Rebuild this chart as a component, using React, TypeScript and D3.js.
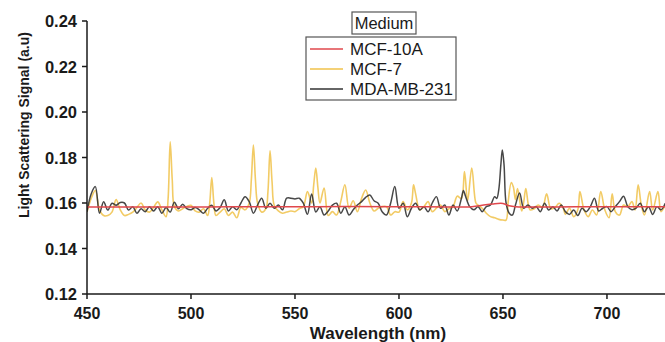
import React from "react";
import * as d3 from "d3";

type Pt = [number, number];

const xTicks = [450, 500, 550, 600, 650, 700];
const yTicks = [0.12, 0.14, 0.16, 0.18, 0.2, 0.22, 0.24];
const seriesNames = ["MCF-10A", "MCF-7", "MDA-MB-231"];
const seriesColors = ["#e0474c", "#f0c24a", "#333333"];

const mcf10a: Pt[] = [
  [450, 0.1582], [480, 0.1582], [520, 0.1583], [560, 0.1584], [600, 0.1584], [635, 0.1584],
  [640, 0.159], [645, 0.1596], [650, 0.1598], [653, 0.1588], [656, 0.1584], [700, 0.1584], [728, 0.1584],
];

const mcf7: Pt[] = [
  [450, 0.156], [452, 0.162], [454, 0.1655], [456, 0.157], [458, 0.1545], [460, 0.1545], [462, 0.156],
  [464, 0.1615], [466, 0.157], [468, 0.1545], [470, 0.155], [472, 0.156], [474, 0.158], [476, 0.16],
  [478, 0.157], [480, 0.156], [482, 0.158], [484, 0.1605], [486, 0.157], [488, 0.154], [489, 0.162],
  [490, 0.1869], [491, 0.17], [492, 0.1585], [494, 0.1565], [496, 0.1575],
  [498, 0.1585], [500, 0.159], [502, 0.1565], [504, 0.156], [506, 0.1575], [508, 0.1545], [509, 0.16],
  [510, 0.1712], [511, 0.16], [512, 0.1545], [514, 0.156], [516, 0.1575], [518, 0.1545], [520, 0.156],
  [522, 0.1535], [524, 0.158], [526, 0.157], [528, 0.16], [529, 0.17], [530, 0.1855], [531, 0.17],
  [532, 0.16], [534, 0.156], [536, 0.1575], [537, 0.165], [538, 0.1829], [539, 0.169], [540, 0.159],
  [542, 0.1565], [544, 0.1555], [546, 0.156], [548, 0.1565], [550, 0.1562], [552, 0.1575], [554, 0.1584],
  [556, 0.165], [558, 0.16], [559, 0.168], [560, 0.1754], [561, 0.167], [562, 0.16], [564, 0.1666],
  [566, 0.1545], [568, 0.1562], [570, 0.1547], [572, 0.1606], [574, 0.168], [576, 0.1577], [578, 0.161],
  [580, 0.1562], [582, 0.162], [584, 0.1657], [586, 0.16], [588, 0.1565],
  [590, 0.1577], [592, 0.1584], [594, 0.1584], [596, 0.1547], [598, 0.1562], [600, 0.156], [602, 0.1606],
  [604, 0.157], [606, 0.16], [607, 0.168], [608, 0.164], [610, 0.157], [612, 0.1584], [614, 0.1606],
  [616, 0.1562], [618, 0.1577], [620, 0.1591], [622, 0.1562], [624, 0.1575], [626, 0.1584], [628, 0.163],
  [630, 0.162], [631.5, 0.1738], [633, 0.161], [635, 0.1754], [637, 0.16], [638, 0.1591], [640, 0.1577],
  [642, 0.1555], [644, 0.154], [646, 0.1535], [648, 0.1528], [650, 0.1525], [651.5, 0.1525], [652.5, 0.1606],
  [654, 0.169], [655, 0.167], [656, 0.1615], [657, 0.1664], [659, 0.1565], [660, 0.1606], [661, 0.1664],
  [663, 0.157], [665, 0.1575], [667, 0.1591], [669, 0.158], [671, 0.164], [673, 0.1575], [675, 0.158],
  [677, 0.1599], [679, 0.1577], [680, 0.155], [682, 0.1577], [684, 0.154], [686, 0.157], [687, 0.165],
  [689, 0.1569], [691, 0.154], [693, 0.1569], [695, 0.1547], [697, 0.165], [699, 0.1569], [701, 0.1535],
  [702.5, 0.164], [704, 0.1562], [706, 0.1547], [708, 0.1591], [710, 0.1584], [712, 0.1606], [713.5, 0.1569],
  [715, 0.168], [716.5, 0.1591], [718, 0.1547], [720.5, 0.165], [722, 0.1569], [724.5, 0.165], [726, 0.1562],
  [728, 0.1591],
];

const mdaMb231: Pt[] = [
  [450, 0.1562], [452, 0.164], [454, 0.1672], [456, 0.1555], [458, 0.1606], [460, 0.1569], [462, 0.1599],
  [464, 0.159], [466, 0.1602], [468, 0.16], [470, 0.1569], [472, 0.1584], [474, 0.1555], [476, 0.1575],
  [478, 0.1562], [480, 0.1584], [482, 0.1565], [484, 0.1584], [486, 0.1555], [488, 0.158], [490, 0.156],
  [492, 0.1603], [494, 0.1575], [496, 0.1595], [498, 0.1575], [500, 0.157], [502, 0.158], [504, 0.157],
  [506, 0.1555], [508, 0.1577], [510, 0.159], [512, 0.1565], [514, 0.158], [516, 0.1614], [518, 0.1565],
  [520, 0.1584], [522, 0.157], [524, 0.16], [526, 0.1628], [528, 0.1606], [530, 0.1555], [532, 0.1591],
  [534, 0.1621], [536, 0.1577], [538, 0.1599], [540, 0.1577], [542, 0.1591], [544, 0.157], [546, 0.1621],
  [548, 0.1621], [550, 0.1618], [552, 0.1621], [554, 0.1599], [556, 0.155], [558, 0.164], [560, 0.156],
  [562, 0.1584], [564, 0.1547], [566, 0.1565], [568, 0.1591], [570, 0.1599], [572, 0.1555], [574, 0.1584],
  [576, 0.1547], [578, 0.157], [580, 0.1591], [582, 0.1606], [584, 0.1625], [586, 0.1635], [588, 0.161],
  [590, 0.1599], [592, 0.156], [594, 0.1547], [596, 0.16], [598, 0.1672], [600, 0.1577], [602, 0.1599],
  [604, 0.154], [606, 0.1577], [608, 0.1599], [610, 0.1569], [612, 0.1584], [614, 0.1562], [616, 0.16],
  [618, 0.1628], [620, 0.1577], [622, 0.1591], [624, 0.1547], [626, 0.1591], [628, 0.1565], [630, 0.162],
  [631, 0.1655], [632, 0.163], [634, 0.1584], [636, 0.157], [638, 0.1584], [640, 0.1562], [642, 0.1584],
  [644, 0.1591], [646, 0.1628], [647, 0.162], [648, 0.166], [649, 0.177], [649.7, 0.1833], [650.5, 0.177],
  [651.5, 0.16], [653, 0.1555], [654.5, 0.1547], [656, 0.1591], [658, 0.1644], [660, 0.1577], [662, 0.1591],
  [664, 0.1577], [666, 0.1584], [668, 0.1562], [670, 0.1599], [672, 0.1569], [674, 0.1584], [676, 0.1565],
  [678, 0.1591], [680, 0.1562], [682, 0.155], [684, 0.1569], [686, 0.1545], [688, 0.1577], [690, 0.1562],
  [692, 0.1584], [694, 0.1621], [696, 0.1565], [698, 0.1577], [700, 0.1584], [702, 0.1562], [704, 0.1584],
  [706, 0.1606], [708, 0.163], [710, 0.1584], [712, 0.157], [714, 0.1577], [716, 0.1599], [718, 0.1562],
  [720, 0.1584], [722, 0.155], [724, 0.1584], [726, 0.157], [728, 0.1599],
];

const W = 665;
const H = 342;
const left = 87;
const top = 21;
const bottom = 294;
const FONT = "'Liberation Sans', Arial, Helvetica, sans-serif";

export default function App() {
  const x = d3.scaleLinear().domain([450, 728]).range([left, 665.2]);
  const y = d3.scaleLinear().domain([0.12, 0.24]).range([bottom, top]);
  const line = d3
    .line<Pt>()
    .x((d) => x(d[0]))
    .y((d) => y(d[1]))
    .curve(d3.curveCatmullRom.alpha(0.5));

  const series: { data: Pt[]; color: string; width: number; opacity: number }[] = [
    { data: mcf7, color: seriesColors[1], width: 1.6, opacity: 0.85 },
    { data: mdaMb231, color: seriesColors[2], width: 1.5, opacity: 0.9 },
    { data: mcf10a, color: seriesColors[0], width: 1.5, opacity: 1 },
  ];

  const legendY = [49, 69, 89];

  return (
    <svg
      width={W}
      height={H}
      style={{ position: "absolute", left: 0, top: 0, background: "#fff" }}
      fontFamily={FONT}
    >
      <defs>
        <clipPath id="plot">
          <rect x={left} y={0} width={W - left} height={bottom} />
        </clipPath>
      </defs>
      <g clipPath="url(#plot)">
        {series.map((s, i) => (
          <path
            key={i}
            d={line(s.data) || ""}
            fill="none"
            stroke={s.color}
            strokeWidth={s.width}
            strokeOpacity={s.opacity}
            strokeLinejoin="round"
          />
        ))}
      </g>

      {/* axes */}
      <line x1={left} x2={left} y1={top} y2={bottom} stroke="#1a1a1a" strokeWidth={1.5} />
      <line x1={left} x2={W} y1={bottom} y2={bottom} stroke="#1a1a1a" strokeWidth={1.5} />
      {yTicks.map((t) => (
        <g key={t}>
          <line x1={left - 5} x2={left} y1={y(t)} y2={y(t)} stroke="#1a1a1a" strokeWidth={1.5} />
          <text
            x={left - 10}
            y={y(t)}
            textAnchor="end"
            dominantBaseline="central"
            fontSize={16.5}
            fontWeight="bold"
            fill="#1a1a1a"
          >
            {t.toFixed(2)}
          </text>
        </g>
      ))}
      {xTicks.map((t) => (
        <g key={t}>
          <line x1={x(t)} x2={x(t)} y1={bottom} y2={bottom + 5} stroke="#1a1a1a" strokeWidth={1.5} />
          <text
            x={x(t)}
            y={319}
            textAnchor="middle"
            fontSize={16}
            fontWeight="bold"
            fill="#1a1a1a"
          >
            {t}
          </text>
        </g>
      ))}
      <text x={378} y={339} textAnchor="middle" fontSize={17} fontWeight="bold" fill="#1a1a1a">
        Wavelength (nm)
      </text>
      <text
        transform={`translate(29,125) rotate(-90)`}
        textAnchor="middle"
        fontSize={14}
        fontWeight="bold"
        fill="#1a1a1a"
      >
        Light Scattering Signal (a.u)
      </text>

      {/* legend */}
      <rect x={352} y={12} width={64} height={22} fill="#fff" stroke="#555" strokeWidth={1.2} />
      <text x={384} y={29} textAnchor="middle" fontSize={16.5} fill="#1a1a1a">
        Medium
      </text>
      <rect x={306} y={37} width={150} height={63} fill="#fff" stroke="#555" strokeWidth={1.2} />
      {seriesNames.map((n, i) => (
        <g key={n}>
          <line
            x1={310}
            x2={343}
            y1={legendY[i]}
            y2={legendY[i]}
            stroke={seriesColors[i]}
            strokeWidth={1.3}
          />
          <text x={350} y={legendY[i]} dominantBaseline="central" fontSize={17} fill="#1a1a1a">
            {n}
          </text>
        </g>
      ))}
    </svg>
  );
}
